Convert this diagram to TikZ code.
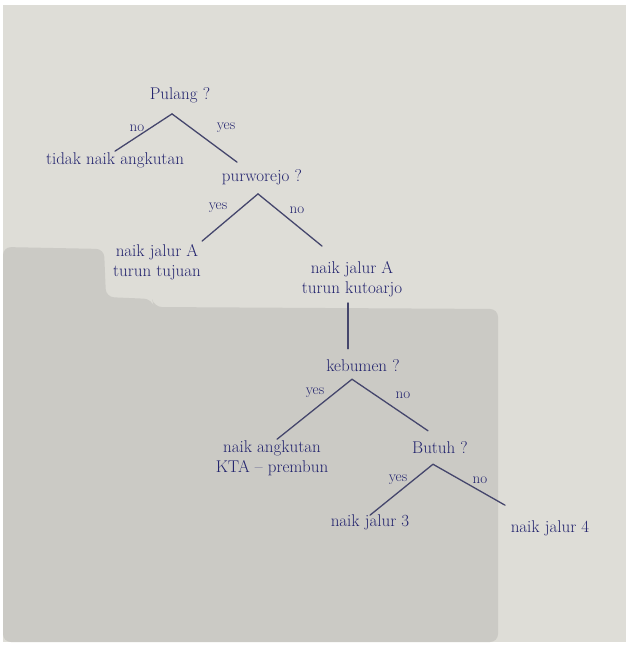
\documentclass[tikz,border=0pt]{standalone}
\usepackage{tikz}

\definecolor{paper}{HTML}{DEDDD7}
\definecolor{shadowgray}{HTML}{CBCAC5}
\definecolor{ink}{HTML}{23246E}
\definecolor{pencil}{HTML}{45466C}

\tikzset{
  txt/.style={text=ink, font=\fontsize{17}{20}\selectfont, inner sep=1pt, align=center},
  lbl/.style={text=ink, font=\fontsize{15}{17}\selectfont, inner sep=0pt},
  branch/.style={draw=pencil, line width=1.3pt, line cap=round}
}

\begin{document}
\begin{tikzpicture}[x=1pt,y=-1pt]
		\useasboundingbox (0,0) rectangle (628,645);
		% photo background
		\fill[white] (0,0) rectangle (628,645);
		\fill[paper] (3,5) rectangle (626,642);
		\fill[shadowgray, rounded corners=8pt] (3,247) -- (104,249) -- (106,297) -- (152,299)
			-- (154,307) -- (498,309) -- (498,642) -- (3,642) -- cycle;
		
		% questions and answers
		\node[txt] (pulang) at (180,95) {Pulang ?};
		\node[txt] (tidak) at (115,160) {tidak naik angkutan};
		\node[txt] (purworejo) at (262,177) {purworejo ?};
		\node[txt] (tujuan) at (157,262) {naik jalur A\\turun tujuan};
		\node[txt] (kutoarjo) at (352,279) {naik jalur A\\turun kutoarjo};
		\node[txt] (kebumen) at (363,366) {kebumen ?};
		\node[txt] (prembun) at (272,458) {naik angkutan\\KTA -- prembun};
		\node[txt] (butuh) at (440,448) {Butuh ?};
		\node[txt] (jalur3) at (370,522) {naik jalur 3};
		\node[txt] (jalur4) at (550,528) {naik jalur 4};
		
		% branches
		\draw[branch] ([xshift=-8pt,yshift=-10pt]pulang.south) -- (tidak.north);
		\draw[branch] ([xshift=-8pt,yshift=-10pt]pulang.south) -- ([xshift=-25pt,yshift=6pt]purworejo.north);
		\draw[branch] ([xshift=-4pt,yshift=-8pt]purworejo.south) -- ([yshift=2pt]tujuan.north east);
		\draw[branch] ([xshift=-4pt,yshift=-8pt]purworejo.south) -- ([xshift=-30pt,yshift=14pt]kutoarjo.north);
		\draw[branch] ([xshift=-4pt,yshift=-5pt]kutoarjo.south) -- ([xshift=-15pt,yshift=10pt]kebumen.north);
		\draw[branch] ([xshift=-11pt,yshift=-6pt]kebumen.south) -- ([xshift=5pt]prembun.north);
		\draw[branch] ([xshift=-11pt,yshift=-6pt]kebumen.south) -- ([xshift=-12pt,yshift=10pt]butuh.north);
		\draw[branch] ([xshift=-7pt,yshift=-9pt]butuh.south) -- ([yshift=-2pt]jalur3.north);
		\draw[branch] ([xshift=-7pt,yshift=-9pt]butuh.south) -- ([xshift=-45pt,yshift=14pt]jalur4.north);
		
		% branch labels
		\node[lbl] (no1) at (137,128) {no};
		\node[lbl] (yes1) at (226,128) {yes};
		\node[lbl] (yes2) at (218,208) {yes};
		\node[lbl] (no2) at (297,210) {no};
		\node[lbl] (yes3) at (315,393) {yes};
		\node[lbl] (no3) at (403,395) {no};
		\node[lbl] (yes4) at (398,480) {yes};
		\node[lbl] (no4) at (480,480) {no};
	\end{tikzpicture}
\end{document}
